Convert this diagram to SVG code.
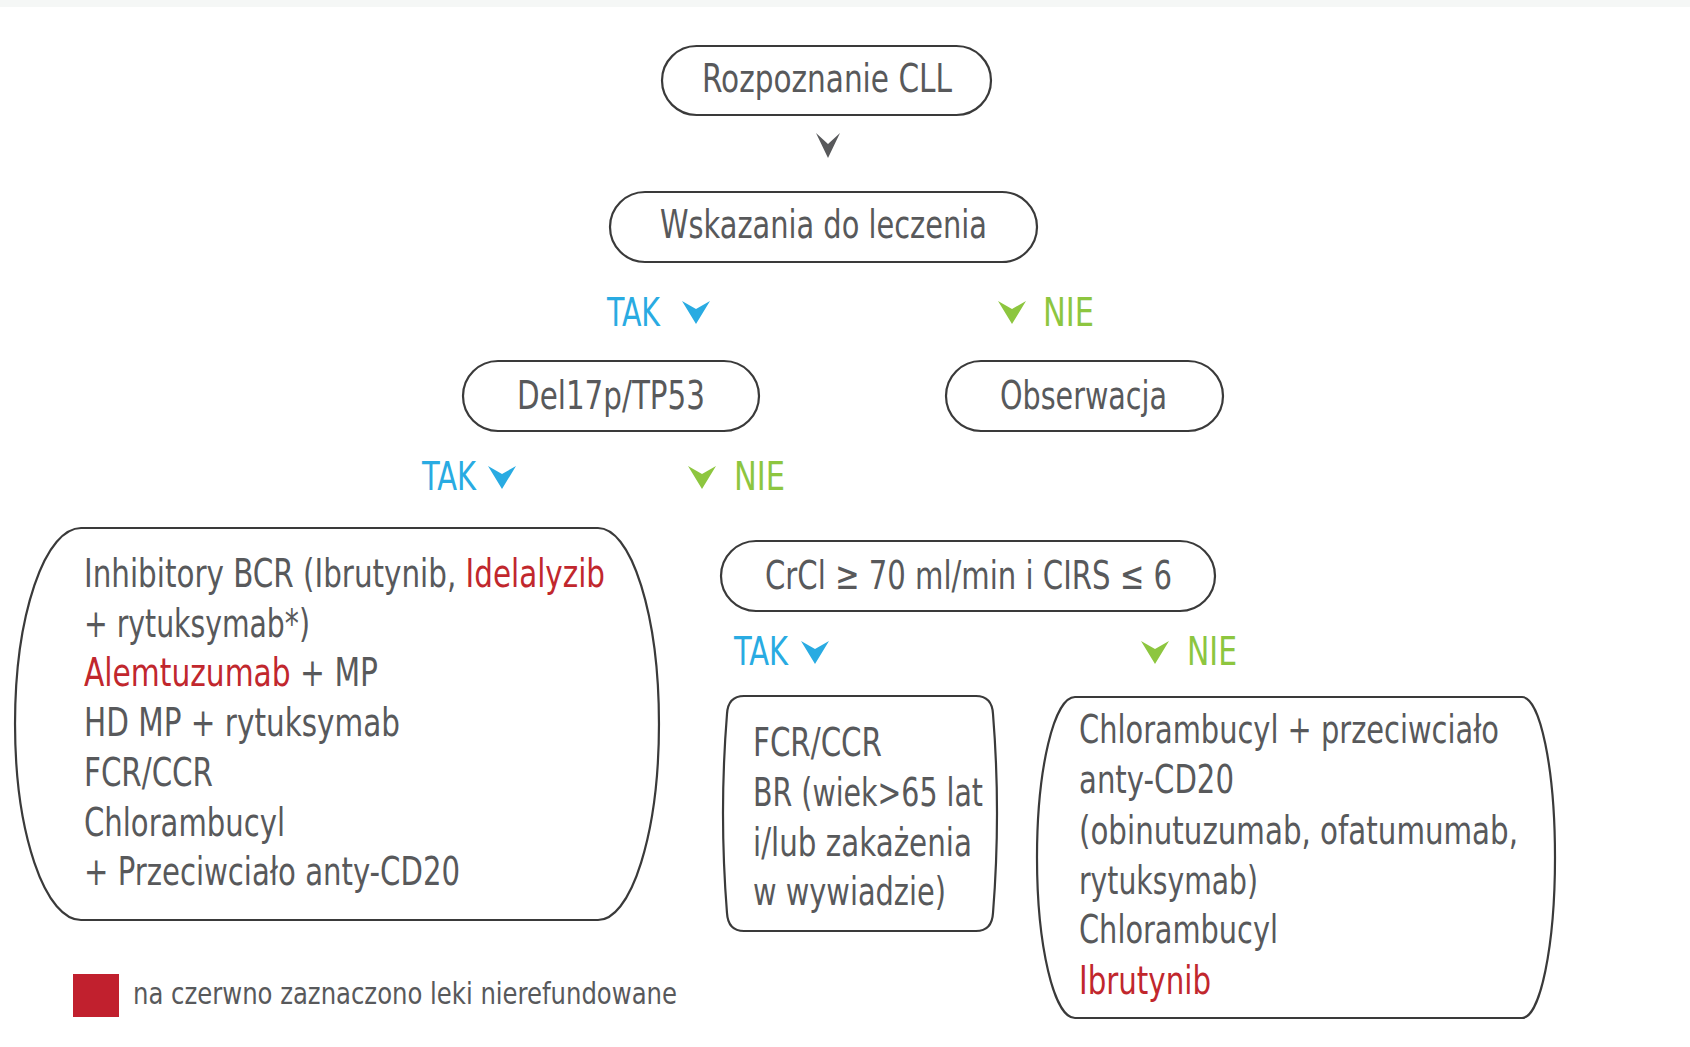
<svg xmlns="http://www.w3.org/2000/svg" width="1690" height="1047" viewBox="0 0 1690 1047">
<style>
text{font-family:"Liberation Sans Narrow","DejaVu Sans Condensed","Liberation Sans",sans-serif;font-size:39px;fill:#58595b}
.tak{fill:#29abe2}
.nie{fill:#8dc63f}
.red{fill:#c1272d}
.box{fill:#fff;stroke:#3a3a3a;stroke-width:2.2}
.leg{font-size:30px}
</style>
<defs>
<path id="chev" d="M-14,0 L0,8 L14,0 L0,23 Z"/>
</defs>
<rect x="0" y="0" width="1690" height="1047" fill="#fff"/>
<rect x="0" y="0" width="1690" height="7" fill="#f5f7f6"/>

<g id="connectors">
<path d="M816,133 L828,144 L840,133 L828,158 Z" fill="#58595b"/>
<use href="#chev" x="696" y="301" fill="#29abe2"/>
<use href="#chev" x="1012" y="301" fill="#8dc63f"/>
<use href="#chev" x="502" y="466" fill="#29abe2"/>
<use href="#chev" x="702" y="466" fill="#8dc63f"/>
<use href="#chev" x="815" y="641" fill="#29abe2"/>
<use href="#chev" x="1155" y="641" fill="#8dc63f"/>
<text class="tak" x="607" y="326" textLength="53" lengthAdjust="spacingAndGlyphs">TAK</text>
<text class="nie" x="1043" y="326" textLength="51" lengthAdjust="spacingAndGlyphs">NIE</text>
<text class="tak" x="422" y="490" textLength="54" lengthAdjust="spacingAndGlyphs">TAK</text>
<text class="nie" x="734" y="490" textLength="51" lengthAdjust="spacingAndGlyphs">NIE</text>
<text class="tak" x="734" y="665" textLength="54" lengthAdjust="spacingAndGlyphs">TAK</text>
<text class="nie" x="1187" y="665" textLength="50" lengthAdjust="spacingAndGlyphs">NIE</text>
</g>

<g id="n-rozpoznanie">
<rect class="box" x="662" y="46" width="329" height="69" rx="34.5"/>
<text x="702" y="92" textLength="250" lengthAdjust="spacingAndGlyphs">Rozpoznanie CLL</text>
</g>
<g id="n-wskazania">
<rect class="box" x="610" y="192" width="427" height="70" rx="35"/>
<text x="660" y="238" textLength="327" lengthAdjust="spacingAndGlyphs">Wskazania do leczenia</text>
</g>
<g id="n-del17p">
<rect class="box" x="463" y="361" width="296" height="70" rx="35"/>
<text x="517" y="409" textLength="188" lengthAdjust="spacingAndGlyphs">Del17p/TP53</text>
</g>
<g id="n-obserwacja">
<rect class="box" x="946" y="361" width="277" height="70" rx="35"/>
<text x="1000" y="409" textLength="167" lengthAdjust="spacingAndGlyphs">Obserwacja</text>
</g>
<g id="n-crcl">
<rect class="box" x="721" y="541" width="494" height="70" rx="35"/>
<text x="765" y="589" textLength="407" lengthAdjust="spacingAndGlyphs">CrCl ≥ 70 ml/min i CIRS ≤ 6</text>
</g>

<g id="n-left">
<path class="box" d="M81,528 H598 A61 196 0 0 1 598,920 H81 A66 196 0 0 1 81,528 Z"/>
<text x="84" y="587" textLength="521" lengthAdjust="spacingAndGlyphs">Inhibitory BCR (Ibrutynib, <tspan class="red">Idelalyzib</tspan></text>
<text x="84" y="637" textLength="226" lengthAdjust="spacingAndGlyphs">+ rytuksymab*)</text>
<text x="84" y="686" textLength="294" lengthAdjust="spacingAndGlyphs"><tspan class="red">Alemtuzumab</tspan> + MP</text>
<text x="84" y="736" textLength="316" lengthAdjust="spacingAndGlyphs">HD MP + rytuksymab</text>
<text x="84" y="786" textLength="129" lengthAdjust="spacingAndGlyphs">FCR/CCR</text>
<text x="84" y="836" textLength="201" lengthAdjust="spacingAndGlyphs">Chlorambucyl</text>
<text x="84" y="885" textLength="376" lengthAdjust="spacingAndGlyphs">+ Przeciwciało anty-CD20</text>
</g>

<g id="n-fcr">
<path class="box" d="M744,696 H976 Q992,696 993,714 Q1001,813 993,913 Q992,931 976,931 H744 Q728,931 727,913 Q719,813 727,714 Q728,696 744,696 Z"/>
<text x="753" y="756" textLength="129" lengthAdjust="spacingAndGlyphs">FCR/CCR</text>
<text x="753" y="806" textLength="230" lengthAdjust="spacingAndGlyphs">BR (wiek&gt;65 lat</text>
<text x="753" y="856" textLength="219" lengthAdjust="spacingAndGlyphs">i/lub zakażenia</text>
<text x="753" y="905" textLength="193" lengthAdjust="spacingAndGlyphs">w wywiadzie)</text>
</g>

<g id="n-right">
<path class="box" d="M1075,697 H1522 A33 160.5 0 0 1 1522,1018 H1075 A38 160.5 0 0 1 1075,697 Z"/>
<text x="1079" y="743" textLength="420" lengthAdjust="spacingAndGlyphs">Chlorambucyl + przeciwciało</text>
<text x="1079" y="793" textLength="155" lengthAdjust="spacingAndGlyphs">anty-CD20</text>
<text x="1079" y="844" textLength="439" lengthAdjust="spacingAndGlyphs">(obinutuzumab, ofatumumab,</text>
<text x="1079" y="894" textLength="179" lengthAdjust="spacingAndGlyphs">rytuksymab)</text>
<text x="1079" y="943" textLength="199" lengthAdjust="spacingAndGlyphs">Chlorambucyl</text>
<text class="red" x="1079" y="994" textLength="132" lengthAdjust="spacingAndGlyphs">Ibrutynib</text>
</g>

<g id="legend">
<rect x="73" y="974" width="46" height="43" fill="#c1202e"/>
<text class="leg" x="133" y="1004" textLength="544" lengthAdjust="spacingAndGlyphs">na czerwno zaznaczono leki nierefundowane</text>
</g>
</svg>
